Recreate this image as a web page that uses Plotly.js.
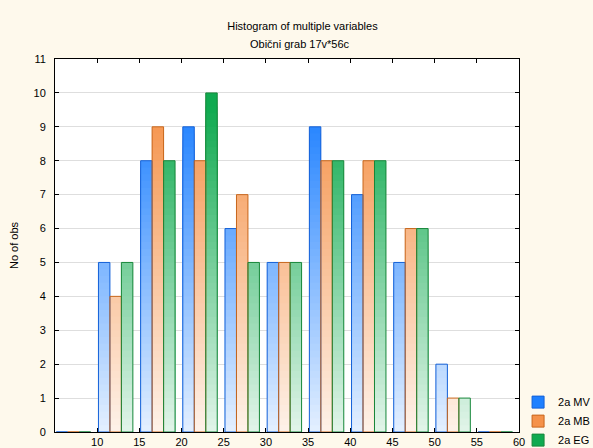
<!DOCTYPE html>
<html>
<head>
<meta charset="utf-8">
<script src="https://cdn.plot.ly/plotly-3.0.1.min.js"></script>
<style>html,body{margin:0;padding:0;background:#fef9ec;}#chart{width:593px;height:448px;}</style>
</head>
<body>
<div id="chart"></div>
<script>
// ---- data ----
const binCenters = [7.5, 12.5, 17.5, 22.5, 27.5, 32.5, 37.5, 42.5, 47.5, 52.5, 57.5];
const mvCounts = [0, 5, 8, 9, 6, 5, 9, 7, 5, 2, 0];
const mbCounts = [0, 4, 9, 8, 7, 5, 8, 8, 6, 1, 0];
const egCounts = [0, 5, 8, 10, 5, 5, 8, 8, 6, 1, 0];
const seriesNames = ['2a MV', '2a MB', '2a EG'];
const xTickVals = [10, 15, 20, 25, 30, 35, 40, 45, 50, 55, 60];
const chartTitle = 'Histogram of multiple variables';
const chartSubtitle = 'Obični grab 17v*56c';
const yTitle = 'No of obs';

// ---- styles ----
const series = [mvCounts, mbCounts, egCounts];
const fullColors = [[30, 128, 255], [245, 146, 74], [16, 170, 80]];
const lineColors = ['#1360d8', '#c8661c', '#17873a'];
const barW = 1.36, firstOffset = -2.35;
const yMax = 11, step = 0.2;

function gradColor(rgb, y) {
  let t = 0.12 + 0.092 * y; if (t > 1) t = 1;
  const c = rgb.map(v => Math.round(255 - (255 - v) * t));
  return 'rgb(' + c.join(',') + ')';
}

const traces = [];
const maxVal = Math.max(...series.flat());
const nBands = Math.ceil(maxVal / step);
// gradient: draw from the top band down, each band bar from 0 up to its upper bound
for (let k = nBands - 1; k >= 0; k--) {
  const lo = k * step, hi = (k + 1) * step, mid = (lo + hi) / 2;
  const xs = [], ys = [], offs = [], cols = [];
  series.forEach((vals, s) => {
    vals.forEach((v, i) => {
      if (v > lo + 1e-9) {
        xs.push(binCenters[i]);
        ys.push(Math.min(v, hi));
        offs.push(firstOffset + s * barW);
        cols.push(gradColor(fullColors[s], mid));
      }
    });
  });
  if (xs.length) traces.push({
    type: 'bar', x: xs, y: ys, offset: offs, width: barW,
    marker: {color: cols, line: {width: 0}}, showlegend: false, hoverinfo: 'skip'
  });
}
// outlines
series.forEach((vals, s) => {
  traces.push({
    type: 'bar', x: binCenters, y: vals, offset: firstOffset + s * barW, width: barW,
    marker: {color: 'rgba(0,0,0,0)', line: {color: lineColors[s], width: 1}},
    showlegend: false, name: seriesNames[s]
  });
});
// legend entries
series.forEach((vals, s) => {
  traces.push({
    type: 'bar', x: [null], y: [null], name: seriesNames[s],
    marker: {color: 'rgb(' + fullColors[s].join(',') + ')', line: {color: lineColors[s], width: 1}},
    showlegend: true
  });
});

const font = {family: '"Liberation Sans", Arial, sans-serif', size: 11, color: '#000'};
const layout = {
  width: 593, height: 448,
  paper_bgcolor: '#fef9ec', plot_bgcolor: '#ffffff',
  margin: {l: 55, r: 74, t: 59, b: 16, autoexpand: false},
  font: font,
  barmode: 'overlay',
  title: {text: chartTitle, x: 0.51, xanchor: 'center', y: 1 - 26 / 448, yanchor: 'middle', font: font},
  annotations: [{text: chartSubtitle, xref: 'paper', yref: 'paper', x: 0.527, xanchor: 'center',
    y: 1 + 15 / 373, yanchor: 'middle', showarrow: false, font: font}],
  xaxis: {range: [5, 60], tickvals: xTickVals, ticks: 'inside', ticklen: 4, tickcolor: '#000',
    showline: true, linecolor: '#000', linewidth: 1, mirror: 'ticks', showgrid: false, zeroline: false,
    tickfont: font},
  yaxis: {range: [0, yMax], dtick: 1, ticks: 'inside', ticklen: 4, tickcolor: '#000',
    showline: true, linecolor: '#000', linewidth: 1, mirror: 'ticks', showgrid: true, gridcolor: '#dedede',
    gridwidth: 1, zeroline: false, tickfont: font, ticklabelstandoff: 6,
    title: {text: yTitle, font: font, standoff: 12}},
  legend: {x: 0.998, xanchor: 'left', y: 0.119, yanchor: 'top', bgcolor: 'rgba(0,0,0,0)',
    font: font, traceorder: 'normal', tracegroupgap: 0},
  showlegend: true
};
Plotly.newPlot('chart', traces, layout, {displayModeBar: false, staticPlot: true});
</script>
</body>
</html>
